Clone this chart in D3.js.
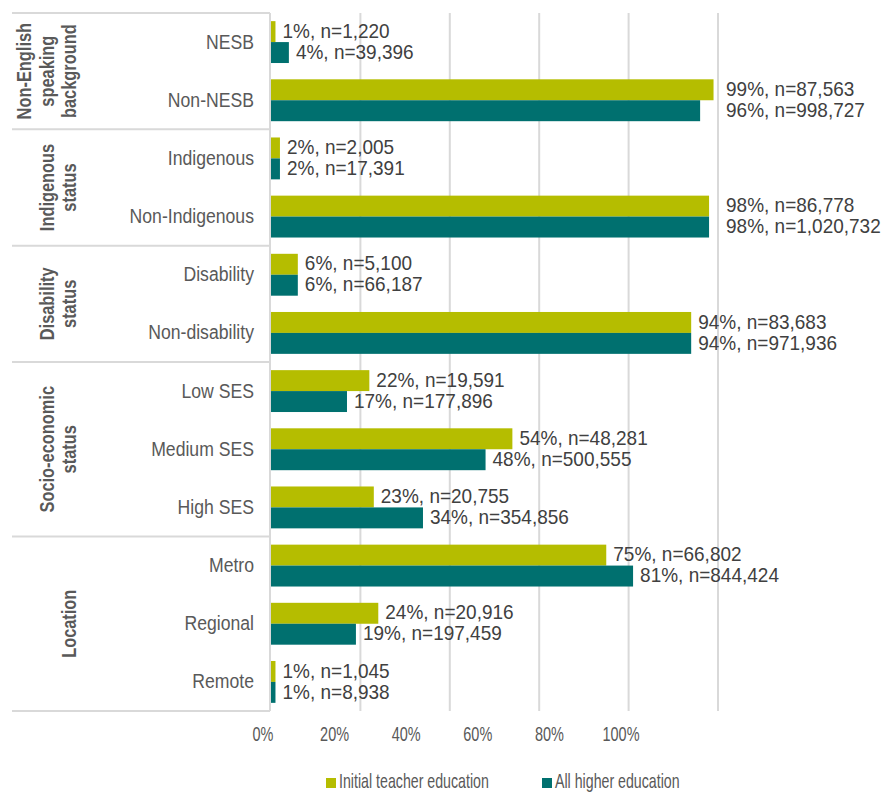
<!DOCTYPE html>
<html>
<head>
<meta charset="utf-8">
<script src="https://cdn.jsdelivr.net/npm/d3@7"></script>
<style>
  html, body { margin: 0; padding: 0; background: #fff; }
  svg { display: block; }
  text { font-family: "Liberation Sans", Arial, sans-serif; }
</style>
</head>
<body>
<script>
// Equity groups shown down the left-hand side
const categories = ["NESB", "Non-NESB", "Indigenous", "Non-Indigenous", "Disability", "Non-disability",
                    "Low SES", "Medium SES", "High SES", "Metro", "Regional", "Remote"];
const groupNames = [["Non-English", "speaking", "background"], ["Indigenous", "status"],
                    ["Disability", "status"], ["Socio-economic", "status"], ["Location"]];
const groupSizes = [2, 2, 2, 3, 3];

const seriesNames = ["Initial teacher education", "All higher education"];
const itePct = [1, 99, 2, 98, 6, 94, 22, 54, 23, 75, 24, 1];
const iteN = [1220, 87563, 2005, 86778, 5100, 83683, 19591, 48281, 20755, 66802, 20916, 1045];
const hePct = [4, 96, 2, 98, 6, 94, 17, 48, 34, 81, 19, 1];
const heN = [39396, 998727, 17391, 1020732, 66187, 971936, 177896, 500555, 354856, 844424, 197459, 8938];

const xTicks = [0, 20, 40, 60, 80, 100];

const colors = ["#b5bd00", "#00706f"];
const W = 885, H = 792;
const plotTop = 13, plotBottom = 711, plotLeft = 271, plotRight = 718;
const tableLeft = 12;

// Condensed look: Liberation Sans squeezed horizontally
const narrow = (px, py, sx, rot) =>
  `translate(${px},${py})${rot ? ` rotate(${rot})` : ""} scale(${sx},1)`;

const svg = d3.select("body").append("svg").attr("width", W).attr("height", H);

const x = d3.scaleLinear().domain([0, 100]).range([plotLeft, plotRight]);
// Tick labels sit on a slightly narrower span than the gridlines
const xLabel = d3.scaleLinear().domain([0, 100]).range([263, 621]);
const y = d3.scaleBand().domain(categories).range([plotTop, plotBottom]).paddingInner(0.28).paddingOuter(0.14);
const ySub = d3.scaleBand().domain([0, 1]).range([0, y.bandwidth()]);

const rows = categories.map((c, i) => ({
  cat: c,
  vals: [{ s: 0, p: itePct[i], n: iteN[i] }, { s: 1, p: hePct[i], n: heN[i] }]
}));

const gridColor = "#d9d9d9";

// Vertical gridlines
svg.append("g").selectAll("line").data(xTicks.slice(1)).join("line")
  .attr("x1", d => x(d)).attr("x2", d => x(d))
  .attr("y1", plotTop).attr("y2", plotBottom)
  .attr("stroke", gridColor).attr("stroke-width", 2);

// Category axis line
svg.append("line").attr("x1", plotLeft - 1).attr("x2", plotLeft - 1).attr("y1", plotTop).attr("y2", plotBottom)
  .attr("stroke", gridColor).attr("stroke-width", 2);

// Group separators of the left-hand table
const step = y.step();
const bounds = [0];
groupSizes.forEach(s => bounds.push(bounds[bounds.length - 1] + s));
svg.append("g").selectAll("line").data(bounds).join("line")
  .attr("x1", tableLeft).attr("x2", plotLeft - 1)
  .attr("y1", d => plotTop + d * step).attr("y2", d => plotTop + d * step)
  .attr("stroke", gridColor).attr("stroke-width", 2);

// Group titles, rotated; last line hugs the category column
const lh = 22.5;
groupNames.forEach((lines, gi) => {
  const cy = plotTop + (bounds[gi] + bounds[gi + 1]) / 2 * step;
  lines.forEach((t, li) => {
    svg.append("text")
      .attr("transform", narrow(76 - (lines.length - 1 - li) * lh, cy, 0.82, -90))
      .attr("text-anchor", "middle")
      .attr("font-size", 20).attr("font-weight", "bold")
      .attr("fill", "#595959")
      .text(t);
  });
});

// Category labels
svg.append("g").selectAll("text").data(categories).join("text")
  .attr("transform", d => narrow(254, y(d) + y.bandwidth() / 2 - 1, 0.84))
  .attr("text-anchor", "end").attr("dominant-baseline", "central")
  .attr("font-size", 21).attr("fill", "#595959")
  .text(d => d);

// Bars
const fmt = d3.format(",");
const rowG = svg.append("g").selectAll("g").data(rows).join("g")
  .attr("transform", d => `translate(0,${y(d.cat)})`);

rowG.selectAll("rect").data(d => d.vals).join("rect")
  .attr("x", x(0)).attr("y", d => ySub(d.s))
  .attr("width", d => x(d.p) - x(0)).attr("height", ySub.bandwidth())
  .attr("fill", d => colors[d.s]);

// Value labels; those reaching the 100% gridline are pushed past it
const labelX = d => {
  const lx = x(d.p) + 7;
  return lx > x(100) - 12 ? x(100) + 8 : lx;
};
rowG.selectAll("text").data(d => d.vals).join("text")
  .attr("transform", d => narrow(labelX(d), ySub(d.s) + ySub.bandwidth() / 2 - 1, 0.95))
  .attr("dominant-baseline", "central")
  .attr("font-size", 20)
  .attr("fill", "#404040")
  .text(d => `${d.p}%, n=${fmt(d.n)}`);

// X tick labels
svg.append("g").selectAll("text").data(xTicks).join("text")
  .attr("transform", d => narrow(xLabel(d), 741, 0.69))
  .attr("text-anchor", "middle")
  .attr("font-size", 21).attr("fill", "#595959")
  .text(d => d + "%");

// Legend
const legendX = [326, 542];
const lg = svg.append("g").selectAll("g").data(seriesNames).join("g")
  .attr("transform", (d, i) => `translate(${legendX[i]},778)`);
lg.append("rect").attr("width", 10).attr("height", 10).attr("fill", (d, i) => colors[i]);
lg.append("text").attr("transform", narrow(13, 9.5, 0.71))
  .attr("font-size", 20).attr("fill", "#595959")
  .text(d => d);
</script>
</body>
</html>
